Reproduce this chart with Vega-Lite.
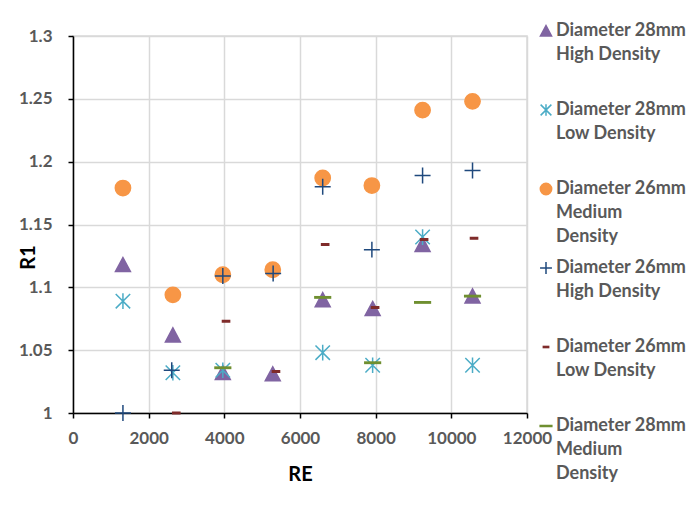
{
  "$schema": "https://vega.github.io/schema/vega-lite/v6.json",
  "width": 454,
  "height": 377,
  "autosize": {"type": "none"},
  "padding": {"left": 73, "top": 36, "right": 162, "bottom": 95},
  "background": "white",
  "config": {
    "view": {"stroke": "#d9d9d9", "strokeWidth": 1.5},
    "font": "Lato",
    "style": {"guide-label": {"lineHeight": 24}},
    "axis": {
      "domainColor": "black", "domainWidth": 1.5,
      "tickColor": "black", "tickWidth": 1.5, "tickSize": 5,
      "gridColor": "#d9d9d9", "gridWidth": 1.5,
      "labelFont": "Lato", "labelFontWeight": "bold", "labelFontSize": 17, "labelColor": "#595959",
      "labelFlush": false, "labelOverlap": false,
      "titleFont": "Lato", "titleFontWeight": "bold", "titleFontSize": 20, "titleColor": "black"
    }
  },
  "data": {
    "values": [
      {"series": "Diameter 28mm High Density", "RE": 1320, "R1": 1.118},
      {"series": "Diameter 28mm High Density", "RE": 2640, "R1": 1.062},
      {"series": "Diameter 28mm High Density", "RE": 3960, "R1": 1.032},
      {"series": "Diameter 28mm High Density", "RE": 5280, "R1": 1.031},
      {"series": "Diameter 28mm High Density", "RE": 6600, "R1": 1.090},
      {"series": "Diameter 28mm High Density", "RE": 7920, "R1": 1.083},
      {"series": "Diameter 28mm High Density", "RE": 9240, "R1": 1.134},
      {"series": "Diameter 28mm High Density", "RE": 10560, "R1": 1.093},
      {"series": "Diameter 28mm Low Density", "RE": 1320, "R1": 1.089},
      {"series": "Diameter 28mm Low Density", "RE": 2640, "R1": 1.032},
      {"series": "Diameter 28mm Low Density", "RE": 3960, "R1": 1.034},
      {"series": "Diameter 28mm Low Density", "RE": 6600, "R1": 1.048},
      {"series": "Diameter 28mm Low Density", "RE": 7920, "R1": 1.038},
      {"series": "Diameter 28mm Low Density", "RE": 9240, "R1": 1.140},
      {"series": "Diameter 28mm Low Density", "RE": 10560, "R1": 1.038},
      {"series": "Diameter 26mm Medium Density", "RE": 1320, "R1": 1.179},
      {"series": "Diameter 26mm Medium Density", "RE": 2640, "R1": 1.094},
      {"series": "Diameter 26mm Medium Density", "RE": 3960, "R1": 1.110},
      {"series": "Diameter 26mm Medium Density", "RE": 5280, "R1": 1.114},
      {"series": "Diameter 26mm Medium Density", "RE": 6600, "R1": 1.187},
      {"series": "Diameter 26mm Medium Density", "RE": 7900, "R1": 1.181},
      {"series": "Diameter 26mm Medium Density", "RE": 9240, "R1": 1.241},
      {"series": "Diameter 26mm Medium Density", "RE": 10560, "R1": 1.248},
      {"series": "Diameter 26mm High Density", "RE": 1320, "R1": 1.000},
      {"series": "Diameter 26mm High Density", "RE": 2610, "R1": 1.034},
      {"series": "Diameter 26mm High Density", "RE": 3960, "R1": 1.109},
      {"series": "Diameter 26mm High Density", "RE": 5290, "R1": 1.111},
      {"series": "Diameter 26mm High Density", "RE": 6600, "R1": 1.180},
      {"series": "Diameter 26mm High Density", "RE": 7900, "R1": 1.130},
      {"series": "Diameter 26mm High Density", "RE": 9240, "R1": 1.189},
      {"series": "Diameter 26mm High Density", "RE": 10560, "R1": 1.193},
      {"series": "Diameter 26mm Low Density", "RE": 2730, "R1": 1.000},
      {"series": "Diameter 26mm Low Density", "RE": 4045, "R1": 1.073},
      {"series": "Diameter 26mm Low Density", "RE": 5365, "R1": 1.033},
      {"series": "Diameter 26mm Low Density", "RE": 6665, "R1": 1.134},
      {"series": "Diameter 26mm Low Density", "RE": 7985, "R1": 1.084},
      {"series": "Diameter 26mm Low Density", "RE": 9280, "R1": 1.138},
      {"series": "Diameter 26mm Low Density", "RE": 10600, "R1": 1.139},
      {"series": "Diameter 28mm Medium Density", "RE": 3960, "R1": 1.036},
      {"series": "Diameter 28mm Medium Density", "RE": 6600, "R1": 1.092},
      {"series": "Diameter 28mm Medium Density", "RE": 7920, "R1": 1.040},
      {"series": "Diameter 28mm Medium Density", "RE": 9240, "R1": 1.088},
      {"series": "Diameter 28mm Medium Density", "RE": 10560, "R1": 1.093}
    ]
  },
  "mark": {"type": "point", "size": 289, "opacity": 1, "strokeWidth": 1.5},
  "encoding": {
    "x": {
      "field": "RE", "type": "quantitative",
      "scale": {"domain": [0, 12000], "nice": false, "zero": false},
      "axis": {"values": [0, 2000, 4000, 6000, 8000, 10000, 12000], "format": "d", "title": "RE", "titleY": 61, "titleBaseline": "middle", "labelPadding": 12}
    },
    "y": {
      "field": "R1", "type": "quantitative",
      "scale": {"domain": [1, 1.3], "nice": false, "zero": false},
      "axis": {"values": [1, 1.05, 1.1, 1.15, 1.2, 1.25, 1.3], "format": ".2~f", "title": "R1", "titleX": -45, "titleY": 221, "titleBaseline": "middle", "titleAlign": "center", "titleAngle": -90, "labelPadding": 16}
    },
    "fill": {
      "field": "series", "type": "nominal",
      "scale": {
        "domain": ["Diameter 28mm High Density", "Diameter 28mm Low Density", "Diameter 26mm Medium Density", "Diameter 26mm High Density", "Diameter 26mm Low Density", "Diameter 28mm Medium Density"],
        "range": ["#8064A2", "#4BACC6", "#F79646", "#1F497D", "#7F2B2A", "#6F8F30"]
      },
      "legend": {
        "title": null, "orient": "none", "legendX": 464, "legendY": -14, "padding": 0,
        "symbolSize": 160, "symbolStrokeWidth": 1.5, "labelOffset": 1, "rowPadding": 13,
        "labelFont": "Lato", "labelFontWeight": "bold", "labelFontSize": 18, "labelColor": "#595959",
        "labelLimit": 300,
        "labelExpr": "split(replace(replace(datum.label, 'mm ', 'mm|'), 'Medium ', 'Medium|') + (indexof(datum.label, 'Medium') >= 0 ? '' : '| '), '|')",
        "encode": {"labels": {"update": {"lineHeight": {"value": 24}}}}
      }
    },
    "stroke": {
      "field": "series", "type": "nominal",
      "scale": {
        "domain": ["Diameter 28mm High Density", "Diameter 28mm Low Density", "Diameter 26mm Medium Density", "Diameter 26mm High Density", "Diameter 26mm Low Density", "Diameter 28mm Medium Density"],
        "range": ["#8064A2", "#4BACC6", "#F79646", "#1F497D", "#7F2B2A", "#6F8F30"]
      }
    },
    "shape": {
      "field": "series", "type": "nominal",
      "scale": {
        "domain": ["Diameter 28mm High Density", "Diameter 28mm Low Density", "Diameter 26mm Medium Density", "Diameter 26mm High Density", "Diameter 26mm Low Density", "Diameter 28mm Medium Density"],
        "range": [
          "M0,-0.85L0.88,0.8L-0.88,0.8Z",
          "M0,-0.92L0,0.92M-0.85,-0.85L0.85,0.85M-0.85,0.85L0.85,-0.85",
          "M-0.9,0A0.9,0.9 0 1,0 0.9,0A0.9,0.9 0 1,0 -0.9,0Z",
          "M-0.94,0L0.94,0M0,-0.94L0,0.94",
          "M-0.42,-0.09L0.42,-0.09L0.42,0.09L-0.42,0.09Z",
          "M-0.92,-0.08L0.92,-0.08L0.92,0.08L-0.92,0.08Z"
        ]
      }
    }
  }
}
